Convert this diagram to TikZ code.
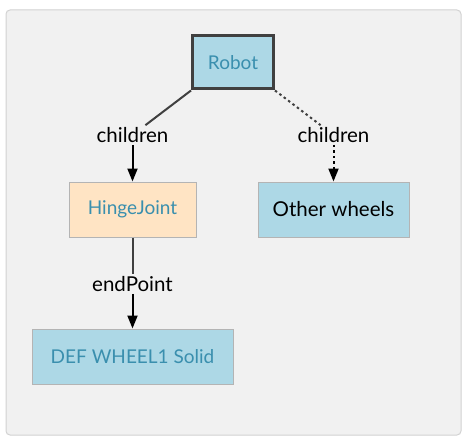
\documentclass[tikz,border=0pt]{standalone}
\usepackage{fontspec}
\setmainfont{Lato}
\usetikzlibrary{arrows.meta}
\definecolor{panel}{HTML}{F1F1F1}
\definecolor{panelline}{HTML}{D2D2D2}
\definecolor{boxblue}{HTML}{ADD8E6}
\definecolor{boxtan}{HTML}{FFE4C4}
\definecolor{boxline}{HTML}{B4B4B4}
\definecolor{nametext}{HTML}{3A8FAE}
\definecolor{darkline}{HTML}{404040}
\tikzset{
	nodebox/.style={draw=boxline, line width=1pt, fill=boxblue, text=nametext,
		minimum height=55pt, inner sep=0pt, font=\fontsize{19}{22}\selectfont},
	fieldlabel/.style={fill=panel, inner sep=2pt, font=\fontsize{20.5}{24}\selectfont},
	fieldedge/.style={draw=darkline, line width=2pt},
	tip/.style={-{Triangle[width=10pt,length=13pt]}}
}
\begin{document}
\begin{tikzpicture}[x=1pt, y=-1pt]
	\useasboundingbox (0,0) rectangle (469,444);
	\filldraw[fill=panel, draw=panelline, line width=1pt, rounded corners=4pt] (6,10) rectangle (461,435);

	% nodes
	\node[nodebox, draw=darkline, line width=3pt, minimum width=81pt, minimum height=53pt] (robot) at (233,62.5) {Robot};
	\node[nodebox, fill=boxtan, minimum width=127pt] (hinge) at (132.5,209.5) {HingeJoint};
	\node[nodebox, text=black, minimum width=151pt, font=\fontsize{20.5}{24}\selectfont] (other) at (333.5,209.5) {Other wheels};
	\node[nodebox, minimum width=201pt] (solid) at (132.5,356.5) {DEF WHEEL1 Solid};

	% field labels
	\node[fieldlabel] (chl) at (132.5,135) {children};
	\node[fieldlabel] (chr) at (333.5,135) {children};
	\node[fieldlabel] (endp) at (132.5,284) {endPoint};

	% edges
	\draw[fieldedge] (robot.south west) -- (chl);
	\draw[fieldedge, tip, draw=black] (chl) -- (hinge);
	\draw[fieldedge, dash pattern=on 2.5pt off 3pt] (robot.south east) -- (chr);
	\draw[fieldedge, tip, draw=black, dash pattern=on 2.5pt off 3pt] (chr) -- (other);
	\draw[fieldedge] (hinge) -- (endp);
	\draw[fieldedge, tip, draw=black] (endp) -- (solid);
\end{tikzpicture}
\end{document}
